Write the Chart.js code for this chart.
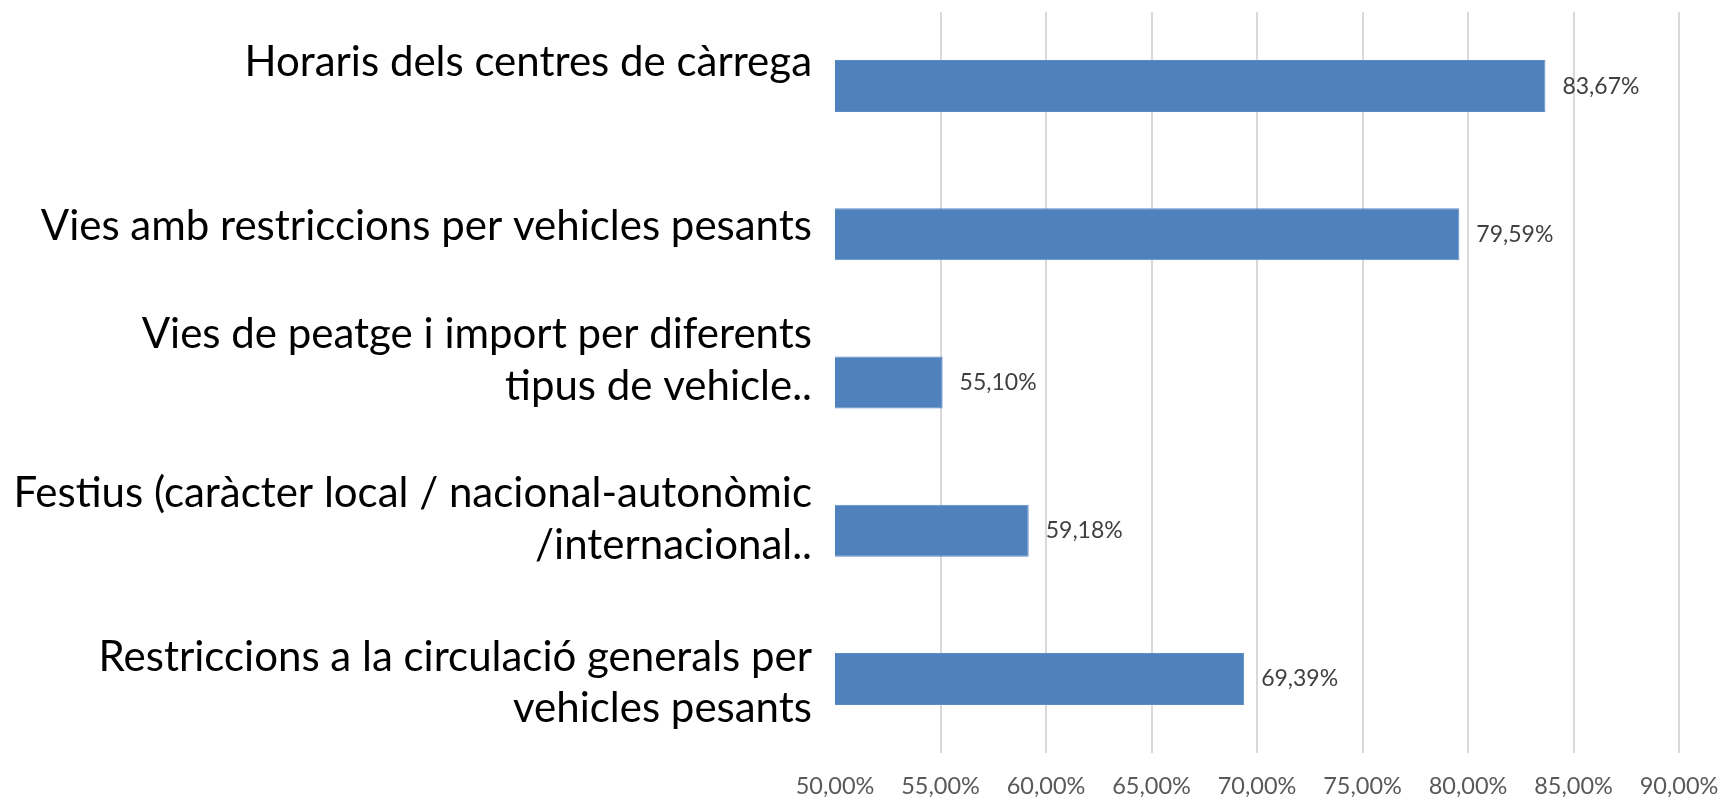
<!DOCTYPE html>
<html>
<head>
<meta charset="utf-8">
<script src="https://cdn.jsdelivr.net/npm/chart.js@4/dist/chart.umd.min.js"></script>
<style>
  html, body { margin: 0; padding: 0; background: #ffffff; }
  #wrap { width: 1720px; height: 797px; position: relative; }
</style>
</head>
<body>
<div id="wrap"><canvas id="c" width="1720" height="797"></canvas></div>
<script>
const categories = [
  "Horaris dels centres de càrrega",
  "Vies amb restriccions per vehicles pesants",
  ["Vies de peatge i import per diferents", "tipus de vehicle.."],
  ["Festius (caràcter local / nacional-autonòmic", "/internacional.."],
  ["Restriccions a la circulació generals per", "vehicles pesants"]
];
const values = [83.67, 79.59, 55.10, 59.18, 69.39];
const axisMin = 50;
const axisMax = 90;
const axisStep = 5;

const fmt = v => Number(v).toFixed(2).replace('.', ',') + '%';

// Excel-like vertical placement of the category label blocks (style only)
const LABEL_NUDGE = [-24, -8, -22, -11, 4];

const dataLabels = {
  id: 'dataLabels',
  afterDatasetsDraw(chart) {
    const ctx = chart.ctx;
    const meta = chart.getDatasetMeta(0);
    ctx.save();
    ctx.font = '23px Lato';
    ctx.fillStyle = '#404040';
    ctx.textAlign = 'left';
    ctx.textBaseline = 'middle';
    meta.data.forEach((bar, i) => {
      ctx.fillText(fmt(values[i]), bar.x + 17, bar.y);
    });
    ctx.restore();
  }
};

new Chart(document.getElementById('c'), {
  type: 'bar',
  data: {
    labels: categories,
    datasets: [{
      data: values,
      backgroundColor: '#4f81bd',
      borderColor: '#5b8cc6',
      borderWidth: 1,
      borderSkipped: false,
      categoryPercentage: 1,
      barPercentage: 0.351
    }]
  },
  options: {
    indexAxis: 'y',
    responsive: false,
    animation: false,
    events: [],
    layout: { padding: { top: 12, right: 41, bottom: 0, left: 0 } },
    plugins: { legend: { display: false }, tooltip: { enabled: false } },
    scales: {
      x: {
        min: axisMin,
        max: axisMax,
        border: { display: false },
        grid: {
          color: ctx => (ctx.tick && ctx.tick.value === axisMin) ? 'rgba(0,0,0,0)' : '#d9d9d9',
          lineWidth: 2,
          drawTicks: false
        },
        ticks: {
          stepSize: axisStep,
          color: '#595959',
          font: { family: 'Lato', size: 23.5 },
          padding: 19,
          maxRotation: 0,
          callback: v => fmt(v)
        },
        afterFit: s => { s.height = 44; s.paddingLeft = 0; s.paddingRight = 0; }
      },
      y: {
        border: { display: false },
        grid: { display: false, drawTicks: false },
        ticks: {
          color: '#000000',
          font: { family: 'Lato', size: 42, lineHeight: 1.23 },
          padding: 23
        },
        afterFit: s => { s.width = 835; s.paddingTop = 0; s.paddingBottom = 0; },
        afterUpdate: s => {
          if (typeof s._computeLabelItems === 'function' && !s.__nudged) {
            const orig = s._computeLabelItems.bind(s);
            s._computeLabelItems = (area) => {
              const items = orig(area);
              items.forEach((it, i) => {
                const t = it.options && it.options.translation;
                if (t && LABEL_NUDGE[i]) t[1] += LABEL_NUDGE[i];
              });
              return items;
            };
            s.__nudged = true;
          }
        }
      }
    }
  },
  plugins: [dataLabels]
});
</script>
</body>
</html>
